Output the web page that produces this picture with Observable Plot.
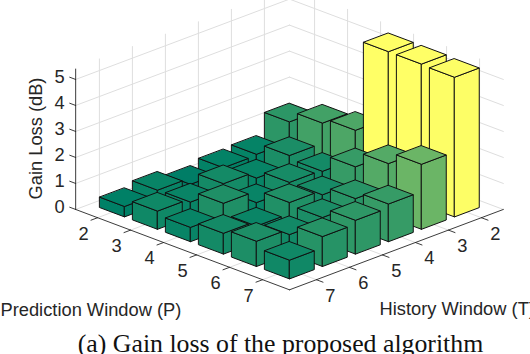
<!DOCTYPE html>
<html>
<head>
<meta charset="utf-8">
<script src="https://cdn.jsdelivr.net/npm/d3@7"></script>
<script src="https://cdn.jsdelivr.net/npm/@observablehq/plot@0.6"></script>
<style>
html,body{margin:0;padding:0;background:#fff;overflow:hidden;width:530px;height:354px}
#cap{font-family:"Liberation Serif",serif;font-size:25.8px;line-height:26px;height:26px;text-align:center;color:#111;white-space:nowrap;padding-left:31px;width:499px}
svg{display:block}
</style>
</head>
<body>
<div id="chart"></div>
<div id="cap">(a) Gain loss of the proposed algorithm</div>
<script>
const predictionWindows = [2, 3, 4, 5, 6, 7];
const historyWindows = [2, 3, 4, 5, 6, 7];
const zTicks = [0, 1, 2, 3, 4, 5];
// one row per history window, values by prediction window
const gainT2 = [1.27, 1.7, 1.9, 5.4, 5.4, 5.37];
const gainT3 = [0.5, 0.93, 0.8, 1.45, 2.05, 2.5];
const gainT4 = [0.46, 0.54, 0.85, 0.85, 1.18, 1.45];
const gainT5 = [0.3, 0.8, 0.55, 1.03, 0.93, 1.3];
const gainT6 = [0.55, 0.57, 1.0, 0.6, 0.75, 1.15];
const gainT7 = [0.4, 0.7, 0.55, 0.8, 0.97, 0.72];
const gainRows = [gainT2, gainT3, gainT4, gainT5, gainT6, gainT7];

const W = 530, H = 331;
const lo = 1.335, hi = 7.815, gridLo = 1.24, zTop = 5.4, half = 0.375;
// oblique view of (prediction, history, gain) onto the picture
const sx = (p, t) => 289 + 33 * (p - t);
const sy = (p, t, z) => 95.5 + 12.4 * (p + t) - 26 * z;
const pt = (p, t, z) => ({x: sx(p, t), y: sy(p, t, z)});

const grid = [], axes = [], ticks = [];
let g = 0;
const seg = (arr, a, b) => { g++; arr.push({...a, id: g}, {...b, id: g}); };
for (const t of historyWindows) {
  seg(grid, {x: sx(gridLo, t), y: sy(lo, t, 0)}, {x: sx(gridLo, t), y: sy(lo, t, zTop)});
  seg(grid, pt(lo, t, 0), pt(hi, t, 0));
}
for (const p of predictionWindows) {
  seg(grid, {x: sx(p, gridLo), y: sy(p, lo, 0)}, {x: sx(p, gridLo), y: sy(p, lo, zTop)});
  seg(grid, pt(p, lo, 0), pt(p, hi, 0));
}
for (const z of zTicks) {
  seg(grid, pt(lo, hi, z), pt(lo, lo, z));
  seg(grid, pt(lo, lo, z), pt(hi, lo, z));
}
seg(axes, pt(lo, hi, 0), pt(lo, hi, zTop));
seg(axes, pt(lo, hi, 0), pt(hi, hi, 0));
seg(axes, pt(hi, hi, 0), pt(hi, lo, 0));
for (const p of predictionWindows) seg(ticks, pt(p, hi, 0), pt(p, hi + 0.2, 0));
for (const t of historyWindows) seg(ticks, pt(hi, t, 0), pt(hi + 0.2, t, 0));
for (const z of zTicks) seg(ticks, pt(lo, hi, z), pt(lo - 0.18, hi, z));

const faces = [];
let id = 0;
const bars = [];
historyWindows.forEach((t, i) => predictionWindows.forEach((p, j) => bars.push({p, t, v: gainRows[i][j]})));
bars.sort((a, b) => (a.p + a.t) - (b.p + b.t) || a.p - b.p);
for (const {p, t, v} of bars) {
  const a = p - half, b = p + half, c = t - half, d = t + half;
  const polys = [
    [[a, d, 0], [b, d, 0], [b, d, v], [a, d, v]],
    [[b, d, 0], [b, c, 0], [b, c, v], [b, d, v]],
    [[a, c, v], [b, c, v], [b, d, v], [a, d, v]]
  ];
  for (const poly of polys) {
    id++;
    for (const q of poly) faces.push({...pt(...q), id, v});
  }
}

const pLabels = predictionWindows.map(p => ({x: sx(p, hi) - 14, y: sy(p, hi, 0) + 16, s: String(p)}));
const tLabels = historyWindows.map(t => ({x: sx(hi, t) + 14, y: sy(hi, t, 0) + 16, s: String(t)}));
const zLabels = zTicks.map(z => ({x: sx(lo, hi) - 16, y: sy(lo, hi, z) - 2, s: String(z)}));
const font = "Liberation Sans";
const ink = "#262626";
const fs = 18.3;

const chart = Plot.plot({
  width: W, height: H, margin: 0,
  x: {type: "linear", domain: [0, W], range: [0, W], axis: null},
  y: {type: "linear", domain: [0, H], range: [0, H], axis: null},
  color: {type: "linear", domain: [0.4, 5.4], range: ["#008066", "#ffff66"], interpolate: "rgb"},
  marks: [
    Plot.line(grid, {x: "x", y: "y", z: "id", stroke: "#dedede", strokeWidth: 1}),
    Plot.line(ticks, {x: "x", y: "y", z: "id", stroke: ink, strokeWidth: 0.9}),
    Plot.line(axes, {x: "x", y: "y", z: "id", stroke: ink, strokeWidth: 0.9}),
    Plot.line(faces, {x: "x", y: "y", z: "id", fill: "v", stroke: "#111", strokeWidth: 1, curve: "linear-closed"}),
    Plot.text(pLabels.concat(tLabels, zLabels), {x: "x", y: "y", text: "s", fontFamily: font, fontSize: fs, fill: ink}),
    Plot.text(["Prediction Window (P)"], {x: [0], y: [310], textAnchor: "start", fontFamily: font, fontSize: fs, fill: ink}),
    Plot.text(["History Window (T)"], {x: [379], y: [309], textAnchor: "start", fontFamily: font, fontSize: fs, fill: ink}),
    Plot.text(["Gain Loss (dB)"], {x: [36], y: [138], rotate: -90, fontFamily: font, fontSize: fs, fill: ink})
  ]
});
document.getElementById("chart").appendChild(chart);
</script>
</body>
</html>
